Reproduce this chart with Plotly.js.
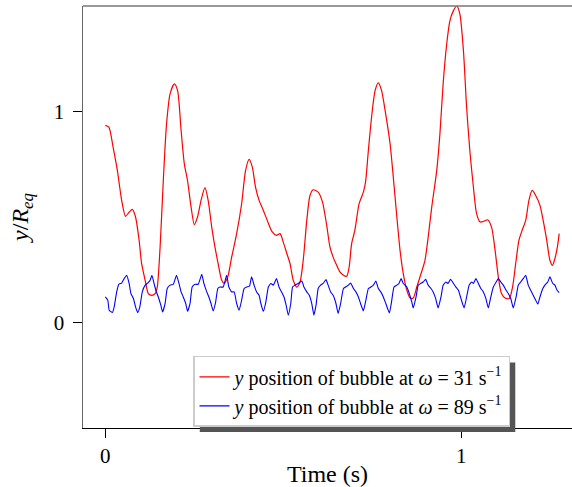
<!DOCTYPE html>
<html>
<head>
<meta charset="utf-8">
<script src="https://cdn.plot.ly/plotly-3.0.1.min.js"></script>
<style>html,body{margin:0;padding:0;background:#fff;}#chart{width:572px;height:487px;}</style>
</head>
<body>
<div id="chart"></div>
<script>
// Red series: omega = 31 s^-1
const tRed = [0, 0.010, 0.022, 0.034, 0.046, 0.057, 0.067, 0.076, 0.085, 0.095,
  0.102, 0.112, 0.121, 0.130, 0.140, 0.146, 0.154, 0.163, 0.172, 0.182,
  0.194, 0.203, 0.213, 0.222, 0.231, 0.241, 0.250, 0.259, 0.269, 0.280,
  0.289, 0.299, 0.308, 0.317, 0.327, 0.334, 0.344, 0.355, 0.369, 0.383,
  0.394, 0.404, 0.413, 0.422, 0.432, 0.444, 0.455, 0.469, 0.481, 0.491,
  0.500, 0.510, 0.519, 0.528, 0.538, 0.547, 0.556, 0.566, 0.575, 0.584,
  0.598, 0.610, 0.622, 0.631, 0.640, 0.650, 0.659, 0.669, 0.678, 0.685,
  0.692, 0.701, 0.713, 0.725, 0.731, 0.739, 0.748, 0.758, 0.767, 0.776,
  0.786, 0.800, 0.809, 0.819, 0.828, 0.837, 0.847, 0.856, 0.865, 0.875,
  0.887, 0.898, 0.907, 0.917, 0.931, 0.940, 0.949, 0.959, 0.968, 0.978,
  0.987, 0.996, 1.006, 1.015, 1.024, 1.034, 1.043, 1.053, 1.065, 1.074,
  1.085, 1.095, 1.104, 1.113, 1.123, 1.135, 1.144, 1.154, 1.162, 1.171,
  1.181, 1.190, 1.199, 1.209, 1.221, 1.230, 1.240, 1.249, 1.256, 1.263,
  1.270, 1.275];
const yRed = [0.934, 0.926, 0.83, 0.72, 0.579, 0.503, 0.523, 0.536, 0.50, 0.39,
  0.28, 0.20, 0.137, 0.129, 0.137, 0.168, 0.358, 0.673, 0.94, 1.084,
  1.131, 1.10, 0.91, 0.752, 0.673, 0.547, 0.464, 0.50, 0.579, 0.639,
  0.579, 0.452, 0.358, 0.279, 0.20, 0.185, 0.216, 0.31, 0.421, 0.563,
  0.72, 0.773, 0.736, 0.642, 0.579, 0.531, 0.484, 0.429, 0.413, 0.421,
  0.381, 0.327, 0.279, 0.20, 0.168, 0.192, 0.295, 0.484, 0.602, 0.629,
  0.618, 0.572, 0.46, 0.358, 0.31, 0.271, 0.24, 0.224, 0.219, 0.263,
  0.374, 0.437, 0.563, 0.618, 0.665, 0.815, 0.973, 1.10, 1.136, 1.10,
  1.005, 0.847, 0.689, 0.50, 0.342, 0.232, 0.153, 0.116, 0.116, 0.168,
  0.232, 0.295, 0.405, 0.547, 0.72, 0.894, 1.131, 1.32, 1.43, 1.478,
  1.50, 1.462, 1.289, 1.02, 0.815, 0.642, 0.516, 0.476, 0.481, 0.487,
  0.452, 0.342, 0.216, 0.137, 0.116, 0.114, 0.168, 0.295, 0.39, 0.437,
  0.484, 0.579, 0.626, 0.602, 0.555, 0.484, 0.39, 0.295, 0.271, 0.303,
  0.358, 0.421];

// Blue series: omega = 89 s^-1
const tBlue = [0, 0.007, 0.011, 0.020, 0.025, 0.032, 0.038, 0.046, 0.053, 0.060,
  0.067, 0.072, 0.079, 0.085, 0.091, 0.097, 0.104, 0.112, 0.119, 0.126,
  0.131, 0.137, 0.142, 0.149, 0.156, 0.161, 0.168, 0.174, 0.182, 0.191,
  0.200, 0.207, 0.213, 0.219, 0.226, 0.231, 0.238, 0.244, 0.252, 0.261,
  0.271, 0.277, 0.285, 0.291, 0.297, 0.303, 0.310, 0.316, 0.322, 0.331,
  0.341, 0.347, 0.355, 0.362, 0.369, 0.376, 0.383, 0.390, 0.397, 0.405,
  0.411, 0.418, 0.425, 0.432, 0.437, 0.444, 0.451, 0.458, 0.465, 0.472,
  0.481, 0.488, 0.495, 0.502, 0.508, 0.514, 0.521, 0.526, 0.533, 0.542,
  0.552, 0.558, 0.566, 0.573, 0.580, 0.586, 0.592, 0.598, 0.605, 0.612,
  0.620, 0.626, 0.633, 0.640, 0.648, 0.654, 0.661, 0.669, 0.675, 0.683,
  0.689, 0.697, 0.704, 0.711, 0.717, 0.725, 0.732, 0.739, 0.746, 0.753,
  0.760, 0.767, 0.774, 0.781, 0.788, 0.798, 0.804, 0.811, 0.819, 0.825,
  0.831, 0.837, 0.847, 0.854, 0.861, 0.865, 0.873, 0.879, 0.886, 0.893,
  0.900, 0.907, 0.915, 0.921, 0.928, 0.935, 0.943, 0.949, 0.957, 0.963,
  0.970, 0.978, 0.985, 0.992, 0.999, 1.008, 1.015, 1.022, 1.029, 1.034,
  1.041, 1.048, 1.055, 1.062, 1.069, 1.076, 1.083, 1.090, 1.098, 1.104,
  1.111, 1.118, 1.126, 1.132, 1.139, 1.146, 1.154, 1.160, 1.167, 1.174,
  1.181, 1.188, 1.195, 1.202, 1.209, 1.215, 1.221, 1.229, 1.235, 1.243,
  1.249, 1.257, 1.263, 1.269, 1.275];
const yBlue = [0.121, 0.106, 0.058, 0.047, 0.074, 0.145, 0.181, 0.187, 0.208, 0.224,
  0.185, 0.137, 0.114, 0.074, 0.047, 0.074, 0.145, 0.177, 0.187, 0.20,
  0.224, 0.185, 0.153, 0.121, 0.082, 0.05, 0.09, 0.161, 0.177, 0.181,
  0.224, 0.185, 0.145, 0.121, 0.09, 0.053, 0.09, 0.168, 0.181, 0.181,
  0.229, 0.185, 0.145, 0.121, 0.09, 0.055, 0.097, 0.161, 0.168, 0.168,
  0.224, 0.168, 0.145, 0.145, 0.09, 0.058, 0.106, 0.161, 0.168, 0.172,
  0.216, 0.177, 0.145, 0.129, 0.09, 0.053, 0.097, 0.168, 0.185, 0.177,
  0.208, 0.168, 0.145, 0.121, 0.082, 0.035, 0.09, 0.168, 0.177, 0.185,
  0.197, 0.168, 0.145, 0.129, 0.09, 0.035, 0.082, 0.161, 0.177, 0.185,
  0.203, 0.177, 0.145, 0.129, 0.09, 0.043, 0.09, 0.161, 0.168, 0.177,
  0.187, 0.161, 0.145, 0.121, 0.09, 0.055, 0.106, 0.161, 0.168, 0.177,
  0.197, 0.161, 0.145, 0.121, 0.09, 0.045, 0.097, 0.168, 0.177, 0.185,
  0.208, 0.185, 0.168, 0.137, 0.097, 0.069, 0.121, 0.177, 0.185, 0.192,
  0.205, 0.177, 0.161, 0.145, 0.114, 0.069, 0.121, 0.177, 0.192, 0.185,
  0.205, 0.185, 0.168, 0.153, 0.114, 0.069, 0.121, 0.177, 0.192, 0.185,
  0.208, 0.185, 0.161, 0.145, 0.114, 0.069, 0.121, 0.168, 0.192, 0.208,
  0.192, 0.177, 0.153, 0.137, 0.114, 0.069, 0.121, 0.177, 0.192, 0.208,
  0.224, 0.177, 0.153, 0.129, 0.106, 0.087, 0.121, 0.161, 0.177, 0.192,
  0.216, 0.185, 0.177, 0.153, 0.142];

const seriesNames = [
  '<i>y</i> position of bubble at <i>ω</i> = 31 s<sup>−1</sup>',
  '<i>y</i> position of bubble at <i>ω</i> = 89 s<sup>−1</sup>'
];
const xTickVals = [0, 1];
const xTickText = ['0', '1'];
const yTickVals = [0, 1];
const yTickText = ['0', '1'];

const SERIF = '"Liberation Serif", "Times New Roman", "DejaVu Serif", serif';

const traces = [
  {x: tRed, y: yRed, name: seriesNames[0], type: 'scatter', mode: 'lines',
   line: {color: '#ff0000', width: 1.2, shape: 'spline', smoothing: 0.7}},
  {x: tBlue, y: yBlue, name: seriesNames[1], type: 'scatter', mode: 'lines',
   line: {color: '#0000ff', width: 1.1, shape: 'spline', smoothing: 0.4}}
];

const layout = {
  width: 572, height: 487,
  margin: {l: 83, r: 0, t: 6, b: 59, pad: 0},
  paper_bgcolor: '#ffffff', plot_bgcolor: '#ffffff',
  font: {family: SERIF, color: '#000', size: 21},
  showlegend: true,
  xaxis: {
    range: [-0.0626, 1.311], tickvals: xTickVals, ticktext: xTickText,
    ticks: 'outside', ticklen: 9, tickwidth: 1.2, tickcolor: '#000',
    showline: true, linecolor: '#000', linewidth: 1.2,
    showgrid: false, zeroline: false,
    tickfont: {family: SERIF, size: 21, color: '#000'},
    title: {text: 'Time (s)', font: {family: SERIF, size: 24, color: '#000'}, standoff: 0}
  },
  yaxis: {
    range: [-0.5, 1.5], tickvals: yTickVals, ticktext: yTickText,
    ticks: 'outside', ticklen: 9, tickwidth: 1.2, tickcolor: '#000',
    ticklabelstandoff: 4,
    showline: true, linecolor: '#666', linewidth: 1.5,
    showgrid: false, zeroline: false,
    tickfont: {family: SERIF, size: 21, color: '#000'},
    title: {text: '<i>y</i>/<i>R<sub>eq</sub></i>', font: {family: SERIF, size: 24, color: '#000'}, standoff: 18}
  },
  legend: {
    x: 0.225, y: 0.171, xanchor: 'left', yanchor: 'top',
    bgcolor: '#ffffff', bordercolor: '#cccccc', borderwidth: 1.5,
    font: {family: SERIF, size: 20, color: '#000'},
    tracegroupgap: 0
  },
  shapes: [
    {type: 'line', xref: 'paper', yref: 'paper', x0: 0, x1: 1, y0: 1, y1: 1,
     line: {color: '#777', width: 1.5}}
  ]
};

Plotly.newPlot('chart', traces, layout, {displayModeBar: false, staticPlot: true}).then(function (gd) {
  // legend drop shadow
  const bg = gd.querySelector('.legend .bg');
  if (!bg) return;
  const r = bg.getBoundingClientRect();
  const c = gd.getBoundingClientRect();
  const fl = gd._fullLayout;
  const ox = fl._size.l, oy = fl._size.t, pw = fl._size.w, ph = fl._size.h;
  const off = 6;
  const x0 = (r.left - c.left + off - ox) / pw;
  const x1 = (r.right - c.left + off - ox) / pw;
  const y0 = 1 - (r.top - c.top + off - oy) / ph;
  const y1 = 1 - (r.bottom - c.top + off - oy) / ph;
  const shapes = layout.shapes.concat([{
    type: 'rect', xref: 'paper', yref: 'paper', x0: x0, x1: x1, y0: y0, y1: y1,
    fillcolor: '#555555', line: {width: 0}, layer: 'above'
  }]);
  Plotly.relayout(gd, {shapes: shapes});
});
</script>
</body>
</html>
